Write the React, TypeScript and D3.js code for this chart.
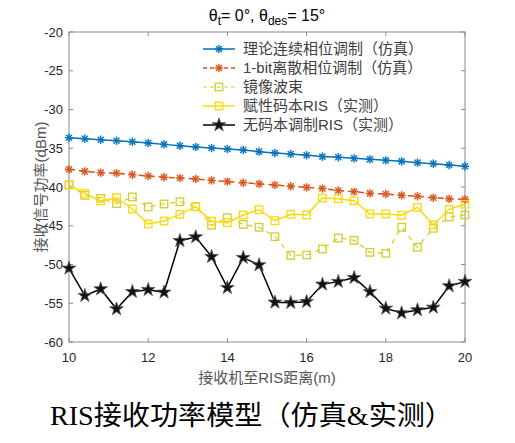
import React from "react";
import * as d3 from "d3";

const distances = [10, 10.4, 10.8, 11.2, 11.6, 12, 12.4, 12.8, 13.2, 13.6, 14, 14.4, 14.8, 15.2, 15.6, 16, 16.4, 16.8, 17.2, 17.6, 18, 18.4, 18.8, 19.2, 19.6, 20];

const theoryContinuous = [-33.64, -33.77, -33.9, -34.03, -34.16, -34.32, -34.5, -34.67, -34.84, -34.97, -35.1, -35.23, -35.44, -35.61, -35.74, -35.91, -36.08, -36.17, -36.3, -36.43, -36.56, -36.69, -36.86, -36.99, -37.16, -37.33];
const oneBitDiscrete = [-37.72, -37.98, -38.15, -38.23, -38.41, -38.58, -38.75, -38.84, -38.97, -39.15, -39.3, -39.45, -39.6, -39.75, -39.9, -40.05, -40.2, -40.45, -40.6, -40.82, -40.9, -41.08, -41.2, -41.38, -41.51, -41.59];
const mirrorBeam = [-39.74, -41.08, -41.46, -42.15, -41.29, -42.58, -42.19, -41.9, -42.54, -44.94, -43.96, -44.82, -45.2, -46.41, -48.82, -48.77, -48.0, -46.58, -46.88, -48.43, -48.56, -45.2, -47.78, -45.33, -43.87, -43.61];
const codebookRIS = [-39.74, -40.82, -41.81, -41.38, -42.84, -44.77, -44.39, -43.53, -42.54, -44.39, -44.6, -43.61, -42.93, -44.35, -43.53, -43.61, -41.42, -41.51, -41.77, -43.48, -43.48, -43.65, -42.62, -44.9, -42.88, -42.23];
const noCodebookRIS = [-50.49, -54.02, -53.16, -55.74, -53.51, -53.25, -53.59, -46.93, -46.45, -48.99, -52.99, -49.12, -50.06, -54.88, -54.92, -54.8, -52.56, -52.21, -51.7, -53.51, -55.66, -56.26, -55.87, -55.53, -52.77, -52.21];

const seriesNames = ["理论连续相位调制（仿真）", "1-bit离散相位调制（仿真）", "镜像波束", "赋性码本RIS（实测）", "无码本调制RIS（实测）"];
const xTicks = [10, 12, 14, 16, 18, 20];
const yTicks = [-20, -25, -30, -35, -40, -45, -50, -55, -60];

type Marker = "asterisk" | "square" | "star";
const seriesStyles: { color: string; dash: string; marker: Marker; width: number }[] = [
  { color: "#0072BD", dash: "", marker: "asterisk", width: 1.5 },
  { color: "#D95319", dash: "6,4", marker: "asterisk", width: 1.5 },
  { color: "#CFCF2A", dash: "5,5", marker: "square", width: 1.2 },
  { color: "#FCD80E", dash: "", marker: "square", width: 1.5 },
  { color: "#000000", dash: "", marker: "star", width: 1.5 },
];
const seriesData = [theoryContinuous, oneBitDiscrete, mirrorBeam, codebookRIS, noCodebookRIS];

const L = 69, R = 465, T = 32, B = 342;
const x = d3.scaleLinear().domain([10, 20]).range([L, R]);
const y = d3.scaleLinear().domain([-60, -20]).range([B, T]);

const starPath = d3.symbol().type(d3.symbolStar).size(58)() as string;

function MarkerShape({ type, cx, cy, color }: { type: Marker; cx: number; cy: number; color: string }) {
  if (type === "asterisk") {
    const r = 4.2, d = r * 0.72;
    return (
      <g stroke={color} strokeWidth={1.5} opacity={0.95}>
        <line x1={cx - r} y1={cy} x2={cx + r} y2={cy} />
        <line x1={cx} y1={cy - r} x2={cx} y2={cy + r} />
        <line x1={cx - d} y1={cy - d} x2={cx + d} y2={cy + d} />
        <line x1={cx - d} y1={cy + d} x2={cx + d} y2={cy - d} />
      </g>
    );
  }
  if (type === "square") {
    const s = 7.5;
    return <rect x={cx - s / 2} y={cy - s / 2} width={s} height={s} fill="none" stroke={color} strokeWidth={1.3} />;
  }
  return <path d={starPath} transform={`translate(${cx},${cy})`} fill="#111" stroke="#555" strokeWidth={0.8} />;
}

export default function App() {
  const line = d3.line<number>().x((_, i) => x(distances[i])).y((v) => y(v));
  const axisColor = "#8a8a8a";
  const textColor = "#262626";
  const tickLen = 4;
  return (
    <svg width={515} height={443} style={{ position: "absolute", left: 0, top: 0, background: "#fff" }}
      fontFamily="'Liberation Sans', Arial, 'Noto Sans CJK SC', sans-serif">
      <rect x={0} y={0} width={515} height={443} fill="#fff" />
      {/* title */}
      <text x={267} y={21} textAnchor="middle" fontSize={16} fill="#000">
        θ<tspan fontSize={12} dy={4}>t</tspan><tspan dy={-4}>= 0°, θ</tspan><tspan fontSize={12} dy={4}>des</tspan><tspan dy={-4}>= 15°</tspan>
      </text>
      {/* axes box */}
      <rect x={L} y={T} width={R - L} height={B - T} fill="none" stroke={axisColor} strokeWidth={1} />
      {xTicks.map((t) => (
        <g key={"x" + t}>
          <line x1={x(t)} x2={x(t)} y1={B} y2={B - tickLen} stroke={axisColor} />
          <line x1={x(t)} x2={x(t)} y1={T} y2={T + tickLen} stroke={axisColor} />
          <text x={x(t)} y={362} textAnchor="middle" fontSize={13} fill={textColor}>{t}</text>
        </g>
      ))}
      {yTicks.map((t) => (
        <g key={"y" + t}>
          <line x1={L} x2={L + tickLen} y1={y(t)} y2={y(t)} stroke={axisColor} />
          <line x1={R} x2={R - tickLen} y1={y(t)} y2={y(t)} stroke={axisColor} />
          <text x={63} y={y(t) + 4.5} textAnchor="end" fontSize={13} fill={textColor}>{t}</text>
        </g>
      ))}
      <text x={267} y={383} textAnchor="middle" fontSize={15} fill="#555">接收机至RIS距离(m)</text>
      <text transform={`translate(46,${(T + B) / 2}) rotate(-90)`} textAnchor="middle" fontSize={15} fill="#555">接收信号功率(dBm)</text>
      {/* series */}
      {seriesData.map((data, si) => {
        const st = seriesStyles[si];
        return (
          <g key={"s" + si}>
            <path d={line(data) as string} fill="none" stroke={st.color} strokeWidth={st.width} strokeDasharray={st.dash || undefined} />
            {data.map((v, i) => (
              <MarkerShape key={i} type={st.marker} cx={x(distances[i])} cy={y(v)} color={st.color} />
            ))}
          </g>
        );
      })}
      {/* legend */}
      {seriesNames.map((name, i) => {
        const st = seriesStyles[i];
        const ly = 49 + i * 19;
        return (
          <g key={"l" + i}>
            <line x1={203} x2={235} y1={ly} y2={ly} stroke={st.color} strokeWidth={st.width} strokeDasharray={st.dash ? "4,3" : undefined} />
            <MarkerShape type={st.marker} cx={219} cy={ly} color={st.color} />
            <text x={243} y={ly + 5} fontSize={15} fill="#404040">{name}</text>
          </g>
        );
      })}
      {/* caption */}
      <text x={50} y={425} fontSize={27} fill="#000" textLength={403} lengthAdjust="spacingAndGlyphs"
        fontFamily="'Liberation Serif', 'Noto Sans CJK SC', serif">RIS接收功率模型（仿真&amp;实测）</text>
    </svg>
  );
}
